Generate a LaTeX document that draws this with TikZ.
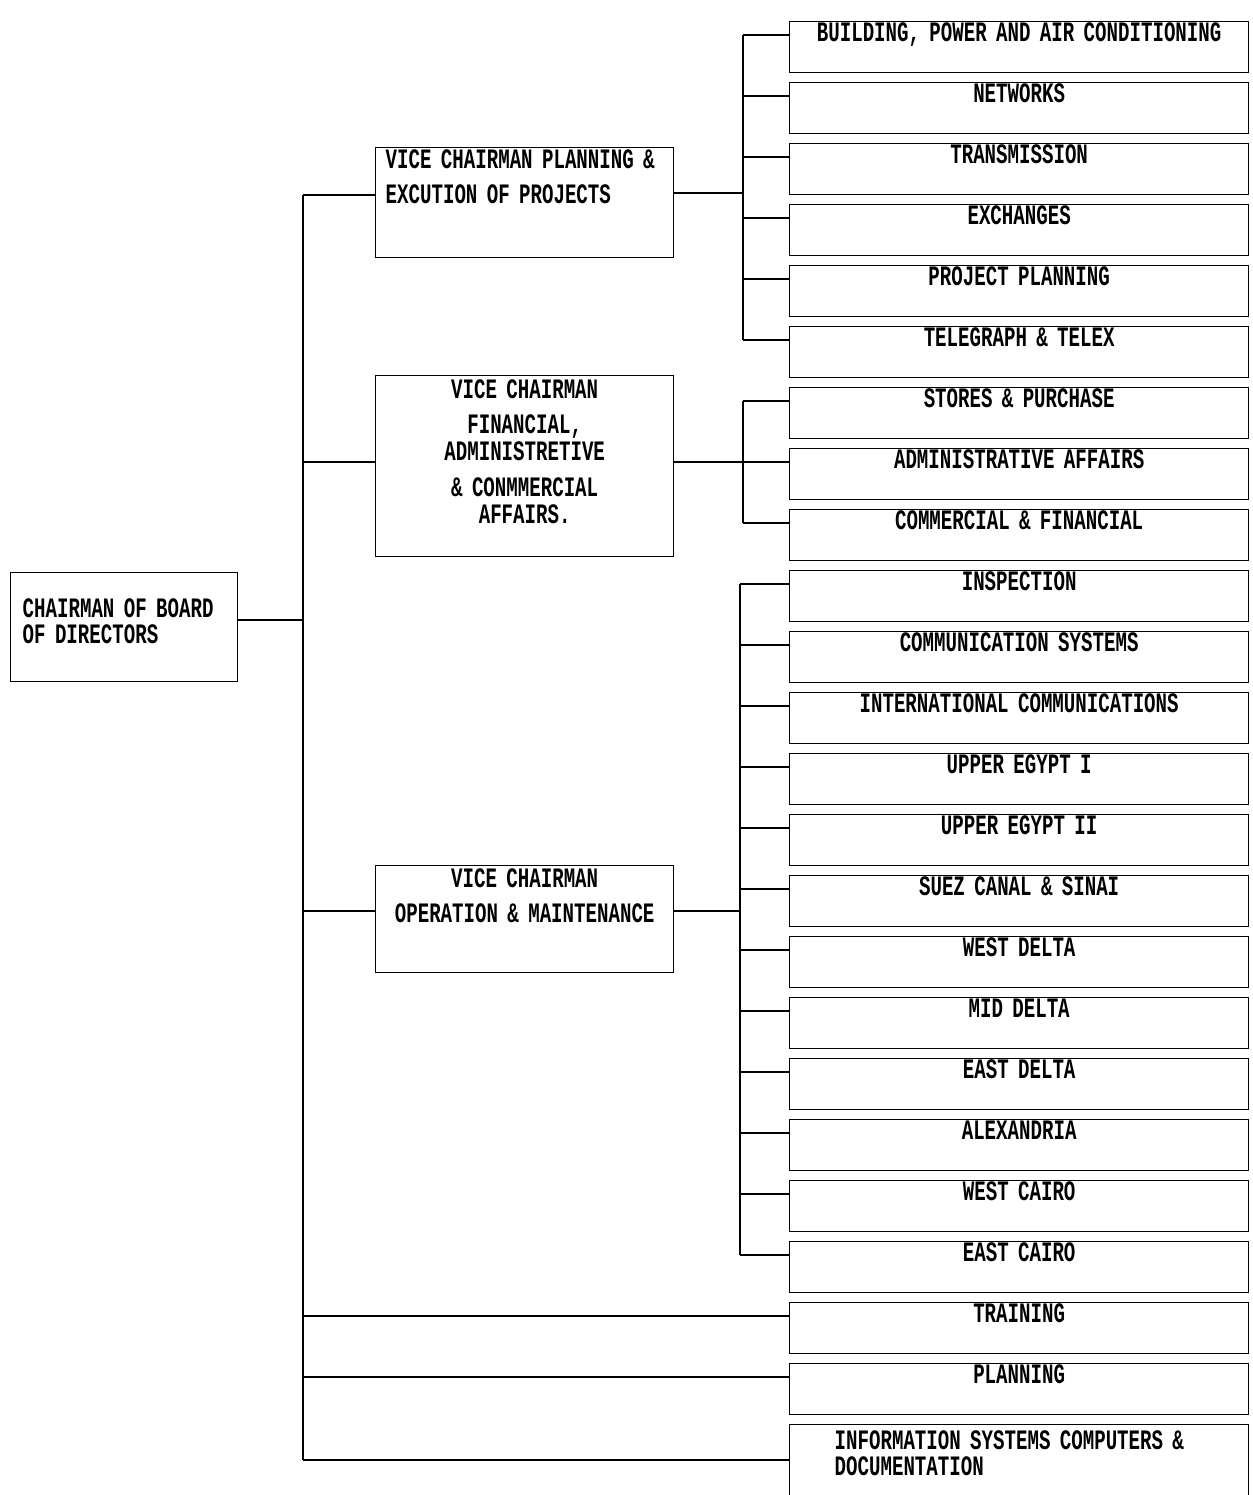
\documentclass[tikz,border=0pt]{standalone}
\usepackage{fontspec}
\setmainfont[FakeStretch=0.68]{Liberation Mono}
\usetikzlibrary{calc}

\tikzset{
  box/.style={draw, line width=0.8pt, inner ysep=0pt, font=\bfseries\fontsize{16}{20}\selectfont},
  unit/.style={box, anchor=north west, inner xsep=0pt, text width=9.18cm, align=center, text height=11.4pt, text depth=17.6pt},
  vice/.style={box, anchor=north west, inner xsep=0.2cm, text width=5.56cm},
  link/.style={line width=0.8pt}
}

\begin{document}
\begin{tikzpicture}[x=0.02cm,y=-0.02cm]

\path[use as bounding box, fill=white] (0,0) rectangle (1253,1495);

% Chairman
\node[box, anchor=north west, inner xsep=0.24cm, text width=4.06cm, align=left, text height=25.6pt, text depth=36.4pt] (chair) at (10,572) {CHAIRMAN OF BOARD\\[-5.2pt]OF DIRECTORS};

% Vice chairmen
\node[vice, align=center, text height=12pt, text depth=50.6pt, align=left] (vp1) at (375,147) {VICE CHAIRMAN PLANNING \&\\EXCUTION OF PROJECTS};
\node[vice, align=center, text height=13.1pt, text depth=89.9pt] (vp2) at (375,375) {VICE CHAIRMAN\\FINANCIAL,\\[-4.6pt]ADMINISTRETIVE\\\& CONMMERCIAL\\[-4.6pt]AFFAIRS.};
\node[vice, align=center, text height=12.5pt, text depth=48.4pt] (vp3) at (375,865) {VICE CHAIRMAN\\OPERATION \& MAINTENANCE};

% Departments
\foreach \name [count=\i from 0] in {{BUILDING, POWER AND AIR CONDITIONING}, NETWORKS, TRANSMISSION, EXCHANGES, PROJECT PLANNING, TELEGRAPH \& TELEX,
  STORES \& PURCHASE, ADMINISTRATIVE AFFAIRS, COMMERCIAL \& FINANCIAL,
  INSPECTION, COMMUNICATION SYSTEMS, INTERNATIONAL COMMUNICATIONS, UPPER EGYPT I, UPPER EGYPT II, SUEZ CANAL \& SINAI,
  WEST DELTA, MID DELTA, EAST DELTA, ALEXANDRIA, WEST CAIRO, EAST CAIRO,
  TRAINING, PLANNING}
  \node[unit] (u\i) at (789,{21+61*\i}) {\name};
\node[unit, align=left, inner xsep=0.9cm, text width=7.38cm, text height=14.2pt, text depth=30pt] (u23) at (789,1424) {INFORMATION SYSTEMS COMPUTERS \&\\[-5.4pt]DOCUMENTATION};

% Branch points on the departments
\foreach \i in {0,...,22}
  \coordinate (p\i) at ($(u\i.north west)+(0,14)$);
\coordinate (p23) at ($(u23.north west)+(0,36)$);

% Main trunk
\coordinate (t) at (303,620);
\coordinate (k1) at (303,195);
\coordinate (k2) at (303,462);
\coordinate (k3) at (303,911);
\draw[link] (chair.east |- t) -- (t);
\draw[link] (k1) -- (t |- p23);
\draw[link] (k1) -- (vp1.west |- k1);
\draw[link] (k2) -- (vp2.west |- k2);
\draw[link] (k3) -- (vp3.west |- k3);
\foreach \i in {21,22,23}
  \draw[link] (t |- p\i) -- (p\i);

% Planning & projects group
\coordinate (b1) at (743,193);
\draw[link] (vp1.east |- b1) -- (b1);
\draw[link] (b1 |- p0) -- (b1 |- p5);
\foreach \i in {0,...,5}
  \draw[link] (b1 |- p\i) -- (p\i);

% Financial group
\coordinate (b2) at (743,462);
\draw[link] (vp2.east |- b2) -- (b2);
\draw[link] (b2 |- p6) -- (b2 |- p8);
\foreach \i in {6,7,8}
  \draw[link] (b2 |- p\i) -- (p\i);

% Operation group
\coordinate (b3) at (740,911);
\draw[link] (vp3.east |- b3) -- (b3);
\draw[link] (b3 |- p9) -- (b3 |- p20);
\foreach \i in {9,...,20}
  \draw[link] (b3 |- p\i) -- (p\i);

\end{tikzpicture}
\end{document}
